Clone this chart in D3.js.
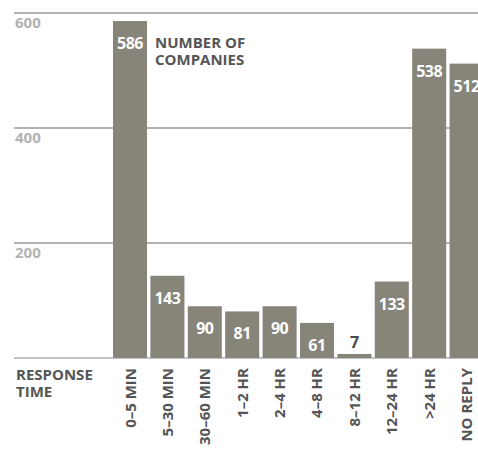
<!DOCTYPE html>
<html>
<head>
<meta charset="utf-8">
<script src="https://cdn.jsdelivr.net/npm/d3@7"></script>
<style>
  body { margin: 0; background: #fff; }
  text { font-family: "Open Sans", "DejaVu Sans", sans-serif; font-weight: 700; }
</style>
</head>
<body>
<svg id="chart" width="478" height="457"></svg>
<script>
var categories = ["0–5 MIN", "5–30 MIN", "30–60 MIN", "1–2 HR", "2–4 HR", "4–8 HR", "8–12 HR", "12–24 HR", ">24 HR", "NO REPLY"];
var companies = [586, 143, 90, 81, 90, 61, 7, 133, 538, 512];
var yTicks = [200, 400, 600];

var svg = d3.select("#chart");
var barColor = "#87847a";

var y = d3.scaleLinear().domain([0, 600]).range([358, 13]);
var x = d3.scaleBand().domain(categories).range([113, 483.6]).paddingInner(0.09).paddingOuter(0);

// gridlines
svg.append("g")
    .selectAll("line")
    .data(yTicks)
    .join("line")
    .attr("x1", 14)
    .attr("x2", 478)
    .attr("y1", d => y(d))
    .attr("y2", d => y(d))
    .attr("stroke", "#9a9a9a")
    .attr("stroke-width", 1.5);

svg.append("g")
    .selectAll("text")
    .data(yTicks)
    .join("text")
    .attr("x", 15)
    .attr("y", d => y(d) + 15)
    .attr("fill", "#b3b3b3")
    .attr("font-size", 15)
    .text(d => d);

// baseline
svg.append("line")
    .attr("x1", 14).attr("x2", 478)
    .attr("y1", y(0)).attr("y2", y(0))
    .attr("stroke", "#b0b0b0")
    .attr("stroke-width", 1.5);

var data = categories.map((c, i) => ({ key: c, value: companies[i] }));

svg.append("g")
    .selectAll("rect")
    .data(data)
    .join("rect")
    .attr("x", d => x(d.key))
    .attr("y", d => y(d.value))
    .attr("width", x.bandwidth())
    .attr("height", d => y(0) - y(d.value))
    .attr("fill", barColor);

// value labels
svg.append("g")
    .selectAll("text")
    .data(data)
    .join("text")
    .attr("x", d => x(d.key) + x.bandwidth() / 2)
    .attr("y", d => d.value < 20 ? y(d.value) - 6 : y(d.value) + 28)
    .attr("text-anchor", "middle")
    .attr("font-size", 16)
    .attr("letter-spacing", -0.5)
    .attr("fill", d => d.value < 20 ? "#4a4a4a" : "#fff")
    .text(d => d.value);

// category labels, rotated
svg.append("g")
    .selectAll("text")
    .data(categories)
    .join("text")
    .attr("transform", d => `translate(${x(d) + x.bandwidth() / 2 + 5.5},368) rotate(-90)`)
    .attr("text-anchor", "end")
    .attr("font-size", 15)
    .attr("fill", "#555")
    .text(d => d);

// titles
svg.append("text").attr("x", 155).attr("y", 48).attr("font-size", 15).attr("fill", "#555").text("NUMBER OF");
svg.append("text").attr("x", 155).attr("y", 65).attr("font-size", 15).attr("fill", "#555").text("COMPANIES");

svg.append("text").attr("x", 16).attr("y", 380).attr("font-size", 15).attr("fill", "#555").text("RESPONSE");
svg.append("text").attr("x", 16).attr("y", 397).attr("font-size", 15).attr("fill", "#555").text("TIME");
</script>
</body>
</html>
